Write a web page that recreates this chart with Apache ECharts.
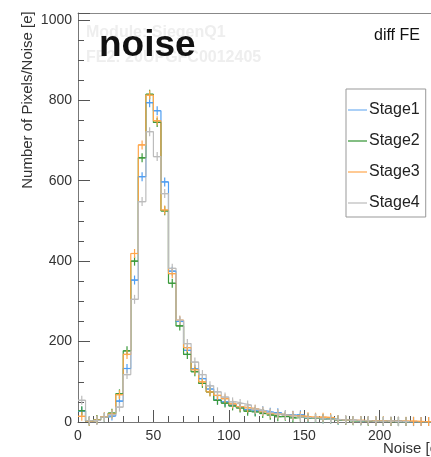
<!DOCTYPE html>
<html>
<head>
<meta charset="utf-8">
<script src="https://cdn.jsdelivr.net/npm/echarts@6/dist/echarts.min.js"></script>
<style>
html,body{margin:0;padding:0;background:#fff;}
#chart{width:431px;height:457px;}
</style>
</head>
<body>
<div id="chart"></div>
<script>
// Histogram bins: left edges, width 5 (Noise [e])
const binWidth = 5;
const binEdges = [0,5,10,15,20,25,30,35,40,45,50,55,60,65,70,75,80,85,90,95,100,105,110,115,120,125,130,135,140,145,150,155,160,165,170,175,180,185,190,195,200,205,210,215,220,225,230,235,240,245];
const stageNames = ['Stage1','Stage2','Stage3','Stage4'];
const stage1 = [27,3,5,12,15,52,133,353,610,794,774,597,375,250,178,132,108,82,55,50,42,37,31,27,28,24,23,18,17,18,10,10,8,8,5,5,4,3,3,3,2,2,2,1,1,1,1,1,0,0];
const stage2 = [28,2,6,12,22,70,177,400,657,815,745,525,345,239,168,125,96,75,54,47,40,35,27,25,21,17,13,14,10,12,10,9,8,7,5,4,3,3,2,2,2,1,1,1,0,0,0,0,0,0];
const stage3 = [14,2,5,13,20,68,168,419,689,813,749,527,369,253,185,130,100,75,66,58,45,38,35,32,26,21,20,17,16,15,13,12,12,11,6,5,4,4,3,3,3,2,2,2,2,1,1,1,1,1];
const stage4 = [54,3,4,12,18,37,118,305,548,722,660,568,382,253,195,149,118,90,75,62,50,46,42,32,28,23,20,17,15,12,11,10,8,7,6,5,4,3,3,2,2,2,1,1,0,0,0,0,0,0];
const xTickLabels = ['0','50','100','150','200','250'];
const yTickLabels = ['0','200','400','600','800','1000'];

const colors = ['#4f9ef2','#3a9a3a','#ffa64a','#bcbcbc'];
const legendColors = ['#8fc0f5','#5aa85a','#ffb870','#c8c8c8'];
const allStages = [stage1, stage2, stage3, stage4];
const FONT = "'Liberation Sans', Arial, Helvetica, sans-serif";

function stepData(vals){
  const d = binEdges.map((e,i)=>[e, vals[i]]);
  d.push([binEdges[binEdges.length-1]+binWidth, vals[vals.length-1]]);
  return d;
}
function markerData(vals){
  const d = [];
  binEdges.forEach((e,i)=>{ if (vals[i] > 0) d.push([e + binWidth/2, vals[i]]); });
  return d;
}

const series = [];
allStages.forEach((vals, k)=>{
  series.push({
    name: stageNames[k], type: 'line', step: 'end', symbol: 'none',
    data: stepData(vals), xAxisIndex: 0, yAxisIndex: 0,
    lineStyle: {color: colors[k], width: 1.2}, itemStyle: {color: legendColors[k]},
    z: 2 + k
  });
  series.push({
    name: stageNames[k] + ' err', type: 'custom', data: markerData(vals),
    xAxisIndex: 0, yAxisIndex: 0, z: 10 + k,
    renderItem: function(params, api){
      const c = api.coord([api.value(0), api.value(1)]);
      const h = 3.5;
      return {type: 'group', children: [
        {type:'line', shape:{x1:c[0]-h, y1:c[1], x2:c[0]+h, y2:c[1]}, style:{stroke: colors[k], lineWidth: 1.2}},
        {type:'line', shape:{x1:c[0], y1:c[1]-h-1, x2:c[0], y2:c[1]+h+1}, style:{stroke: colors[k], lineWidth: 1.2}}
      ]};
    }
  });
});

const chart = echarts.init(document.getElementById('chart'), null, {renderer: 'canvas'});
chart.setOption({
  animation: false,
  backgroundColor: '#ffffff',
  textStyle: {fontFamily: FONT},
  grid: {left: 78, right: -24, top: 13, bottom: 35, containLabel: false, outerBoundsMode: 'none'},
  xAxis: [
    {type: 'value', min: 0, max: 250, interval: 50, position: 'bottom',
     axisLine: {show: true, onZero: false, lineStyle: {color: '#777', width: 1}},
     axisTick: {show: true, inside: true, length: 12, lineStyle: {color: '#555', width: 1}},
     minorTick: {show: true, splitNumber: 5, length: 6, lineStyle: {color: '#555', width: 1}},
     axisLabel: {margin: 7, fontSize: 14, color: '#333', fontFamily: FONT,
                 formatter: v => xTickLabels.indexOf(String(v)) >= 0 ? String(v) : ''},
     splitLine: {show: false}, minorSplitLine: {show: false}},
    {type: 'value', min: 0, max: 250, position: 'top',
     axisLine: {show: true, onZero: false, lineStyle: {color: '#888', width: 1}},
     axisTick: {show: false}, axisLabel: {show: false}, splitLine: {show: false}}
  ],
  yAxis: [
    {type: 'value', min: 0, max: 1017, interval: 200, position: 'left',
     axisLine: {show: true, onZero: false, lineStyle: {color: '#777', width: 1}},
     axisTick: {show: true, inside: true, length: 12, lineStyle: {color: '#555', width: 1}},
     axisLabel: {margin: 6, fontSize: 14, color: '#333', fontFamily: FONT,
                 formatter: v => yTickLabels.indexOf(String(v)) >= 0 ? String(v) : ''},
     splitLine: {show: false}},
    {type: 'value', min: 0, max: 1017, interval: 50, position: 'left',
     axisLine: {show: false, onZero: false},
     axisTick: {show: true, inside: true, length: 6, lineStyle: {color: '#555', width: 1}},
     axisLabel: {show: false}, splitLine: {show: false}}
  ],
  legend: {
    orient: 'vertical', left: 346, top: 89,
    data: stageNames,
    icon: 'rect',
    itemWidth: 19, itemHeight: 1.5, itemGap: 15,
    padding: [13, 6, 6, 2],
    borderColor: '#999', borderWidth: 1, backgroundColor: '#fff',
    textStyle: {fontSize: 16, color: '#222', fontFamily: FONT, padding: [0, 0, 0, -3]},
    selectedMode: false
  },
  graphic: [
    {type: 'text', x: 86, y: 33, z: 1, silent: true,
     style: {text: 'Module: SiegenQ1', fontFamily: FONT, fontSize: 16, fontWeight: 'bold', fill: '#eeeeee', align: 'left', verticalAlign: 'middle'}},
    {type: 'text', x: 86, y: 58, z: 1, silent: true,
     style: {text: 'FE2: 20UPGFC0012405', fontFamily: FONT, fontSize: 16, fontWeight: 'bold', fill: '#eeeeee', align: 'left', verticalAlign: 'middle'}},
    {type: 'text', x: 99, y: 46, z: 5, silent: true,
     style: {text: 'noise', fontFamily: FONT, fontSize: 37, fontWeight: 'bold', fill: '#111', align: 'left', verticalAlign: 'middle'}},
    {type: 'text', x: 374, y: 36, z: 5, silent: true,
     style: {text: 'diff FE', fontFamily: FONT, fontSize: 16, fill: '#111', align: 'left', verticalAlign: 'middle'}},
    {type: 'text', x: 383, y: 449, z: 5, silent: true,
     style: {text: 'Noise [e]', fontFamily: FONT, fontSize: 15, fill: '#333', align: 'left', verticalAlign: 'middle'}},
    {type: 'text', x: 28, y: 100, rotation: Math.PI/2, z: 5, silent: true,
     style: {text: 'Number of Pixels/Noise [e]', fontFamily: FONT, fontSize: 15, fill: '#333', align: 'center', verticalAlign: 'middle'}}
  ],
  series: series
});
</script>
</body>
</html>
